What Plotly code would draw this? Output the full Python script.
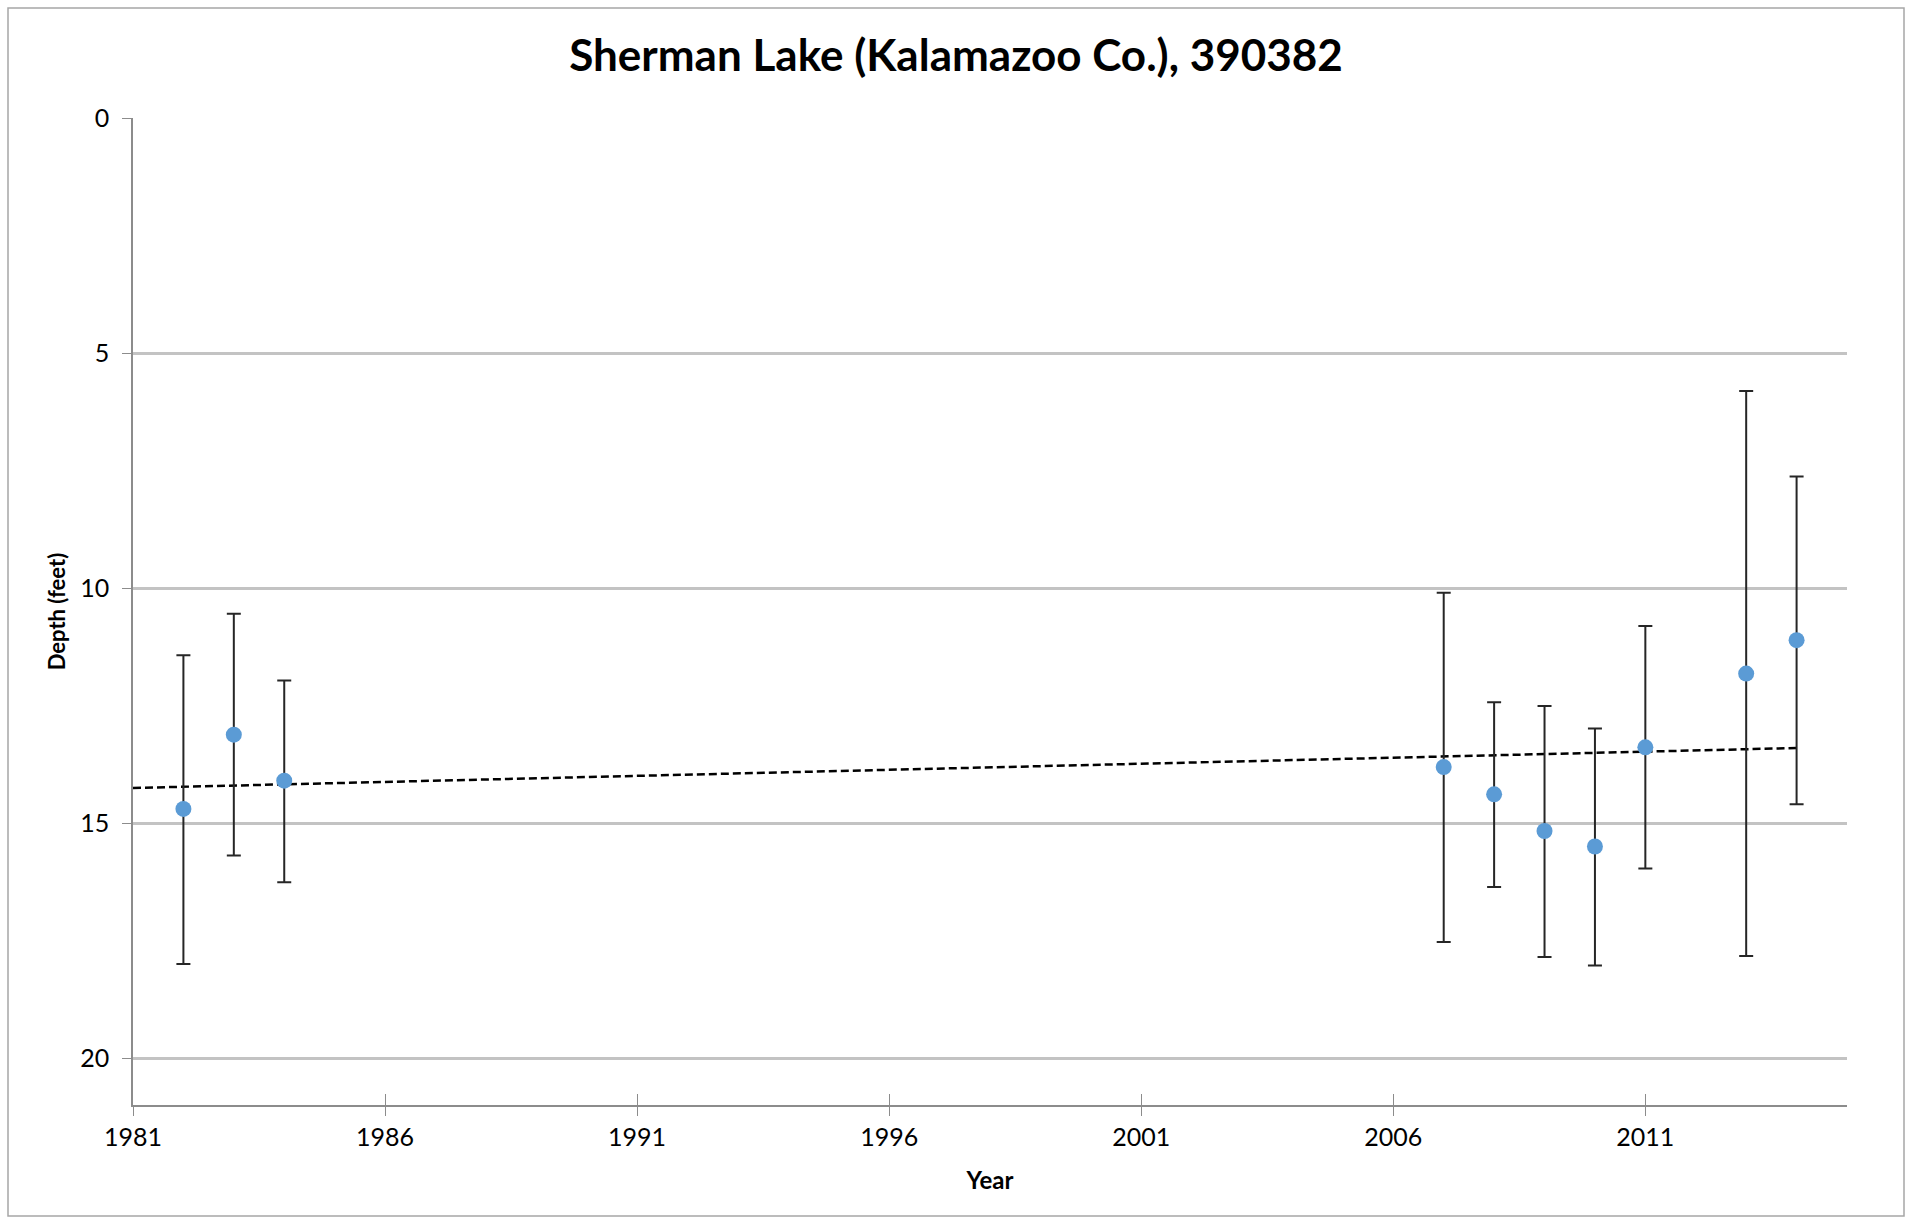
import numpy as np
import plotly.graph_objects as go

# ---- data ----
years = [1982, 1983, 1984, 2007, 2008, 2009, 2010, 2011, 2013, 2014]
mean_depth = [14.70, 13.12, 14.10, 13.81, 14.39, 15.17, 15.50, 13.39, 11.82, 11.11]
min_depth = [11.43, 10.55, 11.97, 10.10, 12.43, 12.51, 12.99, 10.81, 5.81, 7.63]
max_depth = [18.00, 15.69, 16.26, 17.53, 16.36, 17.85, 18.03, 15.97, 17.83, 14.60]
x_ticks = [1981, 1986, 1991, 1996, 2001, 2006, 2011]
y_ticks = [0, 5, 10, 15, 20]

title_text = "Sherman Lake (Kalamazoo Co.), 390382"

W, H = 1912, 1224
ML, MR, MT, MB = 133, 65, 118, 119
FONT = "Lato"

err_plus = [mx - m for mx, m in zip(max_depth, mean_depth)]
err_minus = [m - mn for mn, m in zip(min_depth, mean_depth)]

# linear trendline (least squares, like the spreadsheet trendline)
slope, intercept = np.polyfit(years, mean_depth, 1)
trend_x = [1981, max(years)]
trend_y = [slope * xx + intercept for xx in trend_x]

fig = go.Figure()

fig.add_trace(go.Scatter(
    x=trend_x, y=trend_y, mode="lines",
    line=dict(color="black", width=2.5, dash="8px,4px"),
    showlegend=False, hoverinfo="skip"))

fig.add_trace(go.Scatter(
    x=years, y=mean_depth, mode="markers",
    marker=dict(color="#5B9BD5", size=16),
    error_y=dict(type="data", symmetric=False, array=err_plus, arrayminus=err_minus,
                 color="#262626", thickness=2, width=7),
    showlegend=False))

# invisible trace on overlay axis for inside ticks (crossing tick marks)
fig.add_trace(go.Scatter(x=[1981], y=[0], xaxis="x2", mode="markers",
                         marker=dict(opacity=0), showlegend=False, hoverinfo="skip"))

fig.update_layout(
    width=W, height=H,
    margin=dict(l=ML, r=MR, t=MT, b=MB),
    paper_bgcolor="white", plot_bgcolor="white",
    font=dict(family=FONT, color="black"),
    title=dict(text="<b>" + title_text + "</b>", x=0.5, xanchor="center",
               y=1 - 56 / H, yanchor="middle",
               font=dict(size=44, family=FONT, color="black")),
    xaxis=dict(range=[1981, 2015], tickmode="array", tickvals=x_ticks,
               ticktext=[str(t) for t in x_ticks],
               showgrid=False, zeroline=False, showline=True,
               linecolor="#8c8c8c", linewidth=1.5,
               ticks="outside", ticklen=9, tickcolor="#8c8c8c", tickwidth=1,
               tickfont=dict(size=25, family=FONT, color="black"),
               title=dict(text="<b>Year</b>", font=dict(size=24, family=FONT, color="black"),
                          standoff=22)),
    xaxis2=dict(range=[1981, 2015], overlaying="x", side="bottom", anchor="y",
                tickmode="array", tickvals=x_ticks, showticklabels=False,
                showgrid=False, zeroline=False, showline=False,
                ticks="inside", ticklen=11, tickcolor="#8c8c8c", tickwidth=1),
    yaxis=dict(range=[21, 0], tickmode="array", tickvals=y_ticks,
               ticktext=[str(t) for t in y_ticks],
               showgrid=True, gridcolor="#c3c3c3", gridwidth=2.5,
               zeroline=False, showline=True, linecolor="#8c8c8c", linewidth=1.5,
               ticks="outside", ticklen=9, tickcolor="#8c8c8c", tickwidth=1,
               ticklabelstandoff=8,
               tickfont=dict(size=25, family=FONT, color="black"),
               title=dict(text="<b>Depth (feet)</b>", font=dict(size=22, family=FONT, color="black"),
                          standoff=9)),
)

# outer chart border
pw = W - ML - MR
ph = H - MT - MB
fig.add_shape(type="rect", xref="paper", yref="paper",
              x0=(8 - ML) / pw, x1=(W - 8 - ML) / pw,
              y0=-(H - 8 - MT - ph) / ph, y1=1 + (MT - 8) / ph,
              line=dict(color="#a6a6a6", width=1.5), fillcolor="rgba(0,0,0,0)", layer="below")

fig.write_html("out.html", config={"displayModeBar": False},
               post_script="document.body.style.margin='0';")
